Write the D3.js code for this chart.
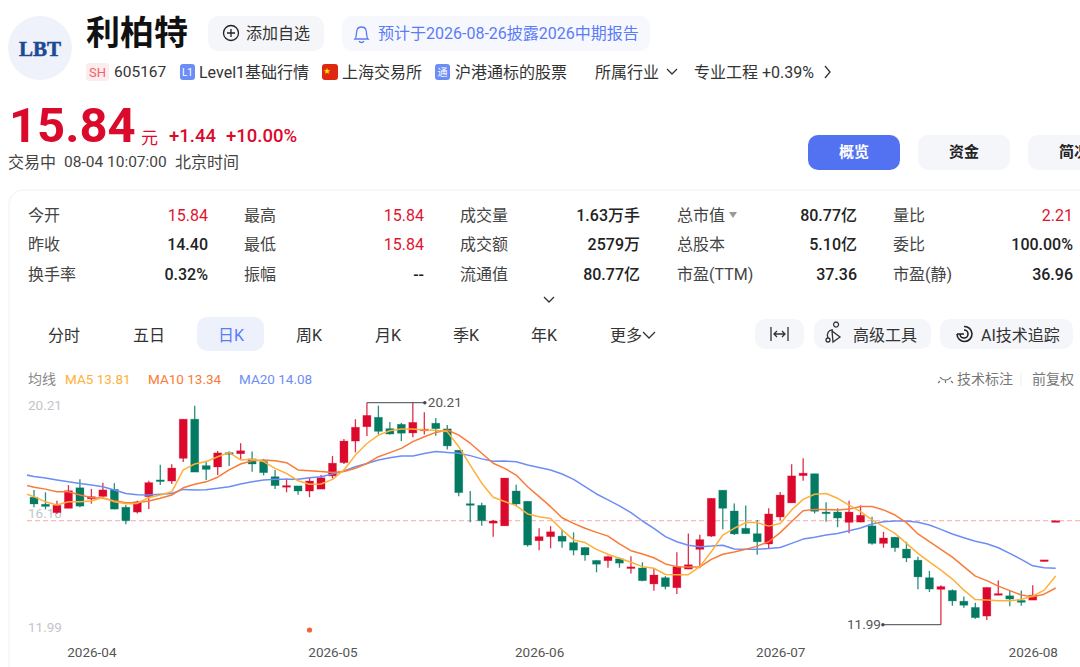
<!DOCTYPE html>
<html>
<head>
<meta charset="utf-8">
<script src="https://cdn.jsdelivr.net/npm/d3@7"></script>
<style>
body { margin: 0; background: #fff; overflow: hidden; }
text { font-family: Roboto, "Noto Sans CJK SC", sans-serif; }
</style>
</head>
<body>
<div id="main"></div>
<script>
// daily candles
const opens = [16.71,16.45,16.14,16.30,17.06,16.65,16.74,17.00,16.34,16.16,
  16.73,17.35,17.31,18.15,19.60,17.88,17.83,18.36,18.32,18.13,
  18.03,17.47,17.09,17.13,16.94,17.01,17.50,17.99,18.79,19.32,
  19.67,19.25,19.41,19.09,19.17,19.45,19.24,18.45,16.47,16.41,
  15.75,15.65,16.94,16.56,15.10,15.25,15.27,15.03,14.85,14.37,
  14.36,14.43,14.08,14.09,13.50,13.73,13.36,14.05,14.78,15.27,
  16.97,16.20,15.56,15.36,14.98,15.98,16.50,17.51,17.58,16.16,
  16.16,15.78,15.79,15.65,15.00,15.23,14.79,14.38,13.73,13.30,
  13.26,12.86,12.63,12.31,13.08,13.06,12.89,12.90,14.33,15.84];
const closes = [16.46,16.37,16.41,16.95,16.38,16.73,16.98,16.27,15.84,16.54,
  17.25,17.30,17.79,19.60,17.64,17.74,18.35,18.30,18.43,17.94,
  17.62,17.14,17.14,16.94,17.31,17.43,17.97,18.79,19.30,19.74,
  19.15,19.05,19.08,19.48,19.23,19.25,18.61,16.88,16.41,15.84,
  15.83,17.42,16.46,14.94,15.25,15.43,15.08,14.75,14.57,14.23,
  14.51,14.27,14.13,13.62,13.83,13.40,14.14,14.21,15.14,16.67,
  16.30,15.35,15.36,15.06,16.09,16.79,17.50,17.60,16.19,16.13,
  15.94,16.16,16.04,15.00,15.20,14.84,14.46,13.76,13.31,13.40,
  12.87,12.71,12.25,13.37,13.14,12.94,12.82,13.08,14.39,15.84];
const highs = [16.98,16.89,16.58,17.16,17.38,17.02,17.25,17.23,16.42,16.58,
  17.32,17.91,17.93,19.60,20.10,18.03,18.42,18.41,18.71,18.40,
  18.13,17.72,17.41,17.13,17.45,17.53,18.24,18.87,19.60,20.21,
  20.10,19.50,19.46,20.21,19.86,19.64,19.38,18.45,16.94,16.51,
  15.87,17.42,17.17,16.56,15.56,15.64,15.53,15.41,14.85,14.37,
  14.54,14.48,14.52,14.30,14.08,13.79,14.67,15.37,15.32,16.67,
  16.97,16.48,16.40,15.87,16.30,16.90,17.93,18.15,17.58,16.52,
  16.30,16.58,16.41,15.99,15.43,15.23,15.06,14.51,13.98,13.45,
  13.30,13.03,12.80,13.37,13.63,13.25,13.26,13.45,14.39,15.84];
const lows = [16.34,16.26,16.09,16.30,16.34,16.47,16.67,16.26,15.71,16.11,
  16.27,17.16,17.20,18.01,17.64,17.35,17.53,17.87,18.09,17.65,
  17.52,17.01,16.89,16.80,16.71,17.01,17.41,17.94,18.37,18.98,
  19.03,19.03,18.79,18.93,19.03,18.99,18.48,16.75,15.78,15.65,
  15.25,15.65,16.38,14.88,14.75,14.82,14.84,14.56,14.36,13.93,
  14.10,14.10,13.89,13.60,13.25,13.30,13.13,14.04,14.08,15.24,
  15.52,15.31,15.36,14.58,14.82,15.86,16.50,17.32,16.11,15.80,
  15.60,15.38,15.78,14.95,14.84,14.69,14.31,13.30,13.20,11.99,
  12.69,12.62,12.21,12.16,13.08,12.67,12.69,12.90,14.33,15.84];

// moving averages, first point sits one day left of the first candle (clipped)
const ma5 = [16.88,16.73,16.54,16.42,16.54,16.54,16.57,16.70,16.54,16.47,16.48,
  16.70,16.79,16.91,17.72,17.94,18.03,18.21,18.36,18.09,18.12,
  18.03,17.78,17.59,17.32,17.19,17.20,17.37,17.72,18.27,18.70,
  19.01,19.17,19.24,19.24,19.20,19.19,19.14,18.58,17.90,17.23,
  16.71,16.55,16.40,16.09,15.99,15.92,15.50,15.13,15.03,14.78,
  14.60,14.45,14.30,14.14,14.08,13.85,13.84,13.84,14.14,14.69,
  15.31,15.56,15.77,15.77,15.64,15.74,16.24,16.63,16.82,16.85,
  16.67,16.42,16.18,15.87,15.62,15.37,15.00,14.63,14.32,14.01,
  13.68,13.27,12.92,12.90,12.88,12.88,12.92,13.05,13.27,13.79];
const ma10 = [17.19,17.08,17.01,16.91,16.91,16.79,16.70,16.67,16.58,16.51,16.51,
  16.57,16.67,16.79,17.06,17.19,17.28,17.45,17.72,17.94,18.06,
  18.09,18.06,17.99,17.72,17.69,17.66,17.63,17.66,17.78,17.96,
  18.21,18.36,18.52,18.77,18.95,19.11,19.20,19.01,18.71,18.34,
  17.97,17.78,17.53,17.10,16.73,16.36,15.95,15.74,15.56,15.41,
  15.27,14.98,14.73,14.61,14.47,14.24,14.14,14.13,14.13,14.41,
  14.60,14.68,14.78,14.90,15.06,15.40,15.81,16.21,16.26,16.26,
  16.24,16.27,16.37,16.37,16.24,16.05,15.77,15.35,15.07,14.78,
  14.49,14.14,13.79,13.62,13.42,13.25,13.09,13.02,13.12,13.35];
const ma20 = [17.56,17.48,17.42,17.35,17.28,17.22,17.16,17.10,16.98,16.85,16.80,
  16.79,16.82,16.85,17.00,16.98,16.99,17.04,17.10,17.20,17.28,
  17.35,17.38,17.38,17.38,17.43,17.47,17.57,17.68,17.84,17.96,
  18.09,18.17,18.24,18.24,18.33,18.40,18.37,18.34,18.25,18.13,
  18.04,18.05,18.02,17.90,17.81,17.72,17.57,17.37,17.10,16.83,
  16.61,16.39,16.14,15.83,15.56,15.25,15.06,14.93,14.88,14.90,
  14.93,14.79,14.78,14.78,14.81,14.85,15.00,15.16,15.23,15.31,
  15.37,15.47,15.57,15.72,15.80,15.83,15.83,15.78,15.68,15.52,
  15.35,15.21,15.08,14.99,14.84,14.63,14.41,14.17,14.10,14.08];

const yTicks = [20.21, 16.10, 11.99];
const monthIdx = [5, 26, 44, 65, 87];
const monthLabels = ['2026-04','2026-05','2026-06','2026-07','2026-08'];
const lastPrice = 15.84, maxPrice = 20.21, minPrice = 11.99;
const maxIdx = 29, maxIdx2 = 33, minIdx = 79, eventIdx = 24;

const statRows = [
  [['今开','15.84','r'],['最高','15.84','r'],['成交量','1.63万手',''],['总市值','80.77亿',''],['量比','2.21','r']],
  [['昨收','14.40',''],['最低','15.84','r'],['成交额','2579万',''],['总股本','5.10亿',''],['委比','100.00%','']],
  [['换手率','0.32%',''],['振幅','--',''],['流通值','80.77亿',''],['市盈(TTM)','37.36',''],['市盈(静)','36.96','']]
];
const statLabelX = [28, 244, 460, 677, 893];
const statValueX = [208, 424, 640, 857, 1073];
const tabs = [['分时',64],['五日',149],['日K',231],['周K',309],['月K',388],['季K',466],['年K',544]];

const red = '#db0a2c', green = '#047a63', blue = '#5b7cf6', btn = '#f5f6fa';

const svg = d3.select('#main').append('svg').attr('width', 1080).attr('height', 667).style('display','block');

const label = (x, y, str, size, color, anchor, weight) => svg.append('text')
  .attr('x', x).attr('y', y).attr('font-size', size).attr('fill', color)
  .attr('text-anchor', anchor || 'start').attr('font-weight', weight || 400)
  .attr('dominant-baseline', 'central').text(str);
const box = (x, y, w, h, r, fill) => svg.append('rect')
  .attr('x', x).attr('y', y).attr('width', w).attr('height', h).attr('rx', r).attr('fill', fill);
const icon = (d, color, sw) => svg.append('path').attr('d', d).attr('fill', 'none')
  .attr('stroke', color || '#333').attr('stroke-width', sw || 1.3);

// header
svg.append('circle').attr('cx', 40).attr('cy', 48).attr('r', 32).attr('fill', '#eff2fa');
label(40, 49, 'LBT', 21, '#1c4a94', 'middle', 700).style('font-family', '"Liberation Serif", serif')
  .attr('stroke', '#1c4a94').attr('stroke-width', 0.5);
label(86, 33, '利柏特', 34, '#111', 'start', 700);
box(208, 16, 116, 35, 10, btn);
svg.append('circle').attr('cx', 231).attr('cy', 33).attr('r', 7.5).attr('fill', 'none').attr('stroke', '#222').attr('stroke-width', 1.3);
icon('M227,33H235M231,29V37', '#222');
label(246, 33, '添加自选', 16, '#333');
box(342, 16, 308, 35, 10, '#f7f8fe');
icon('M355,39C357,37 356,33 357,30C358,26 365,26 366,30C367,33 366,37 368,39ZM359,41C360,43 363,43 364,41', blue);
label(378, 33, '预计于2026-08-26披露2026中期报告', 16, blue);

box(86, 63, 23, 18, 3, '#fdeced');
label(97.5, 72, 'SH', 13, '#f0636c', 'middle');
label(114, 72, '605167', 15.5, '#333');
box(180, 64, 15, 16, 3, '#6c8df5');
label(187.5, 72, 'L1', 10, '#fff', 'middle');
label(199, 72, 'Level1基础行情', 16, '#333');
box(322, 64, 16, 16, 3, '#de2910');
label(327, 71, '★', 7, '#ffde00', 'middle');
label(342, 72, '上海交易所', 16, '#333');
box(435, 64, 15, 16, 3, '#6c8df5');
label(442.5, 72, '通', 10, '#fff', 'middle');
label(455, 72, '沪港通标的股票', 16, '#333');
label(595, 72, '所属行业', 16, '#333');
icon('M667,69L672,74L677,69', '#333');
label(694, 72, '专业工程 +0.39%', 16, '#333');
icon('M825,66L830,72L825,78', '#333');

// price
label(9, 125, '15.84', 49, red, 'start', 700);
label(141, 138, '元', 17, red);
label(169, 136, '+1.44', 18.5, red, 'start', 500);
label(226, 136, '+10.00%', 18.5, red, 'start', 500);
label(8, 162, '交易中', 16, '#444');
label(64, 162, '08-04 10:07:00', 15.5, '#444');
label(175, 162, '北京时间', 16, '#444');

box(808, 135, 92, 35, 10, '#5272f2');
label(854, 152, '概览', 15, '#fff', 'middle', 700);
box(918, 135, 92, 35, 10, btn);
label(964, 152, '资金', 15, '#222', 'middle', 700);
box(1028, 135, 92, 35, 10, btn);
label(1074, 152, '简况', 15, '#222', 'middle', 700);

// stats card
svg.append('rect').attr('x', 9).attr('y', 190).attr('width', 1200).attr('height', 600).attr('rx', 14)
  .attr('fill', 'none').attr('stroke', '#f1f1f4');
statRows.forEach((row, r) => {
  const y = 215 + r * 29.7;
  row.forEach((c, i) => {
    label(statLabelX[i], y, c[0], 16, '#444');
    label(statValueX[i], y, c[1], 16, c[2] ? '#e0142f' : '#222', 'end', c[2] ? 400 : 500);
  });
});
svg.append('path').attr('d', 'M729,212H737L733,218Z').attr('fill', '#999');
icon('M544,297L549,302L554,297', '#333');

// tabs
box(197, 317, 67, 34, 10, '#edf1fc');
tabs.forEach(t => label(t[1], 335, t[0], 16, t[0] === '日K' ? blue : '#333', 'middle'));
label(610, 335, '更多', 16, '#333');
icon('M643,332L649,338L655,332', '#333');
box(755, 319, 49, 30, 10, btn);
icon('M771,327V341M788,327V341M774,334H785M777,331L774,334L777,337M782,331L785,334L782,337', '#333');
box(814, 319, 117, 30, 10, btn);
icon('M836,327A2.500,2.500 0 1,1 836.100,327M833,330C829,329 826,334 828,338M832,331L840,337L833,342Z', '#333');
svg.append('circle').attr('cx', 828).attr('cy', 340).attr('r', 2).attr('fill', 'none').attr('stroke', '#333').attr('stroke-width', 1.3);
label(853, 335, '高级工具', 16, '#333');
box(940, 319, 133, 30, 10, btn);
icon('M957,334A7.500,7.500 0 1,0 964,326.500M960,334A4,4 0 1,0 964,330M964,334H957', '#222', 1.6);
label(981, 335, 'AI技术追踪', 16, '#333');

// legend
label(28, 379, '均线', 14, '#888');
label(65, 379, 'MA5 13.81', 13.5, '#ffb03a');
label(148, 379, 'MA10 13.34', 13.5, '#f97b37');
label(239, 379, 'MA20 14.08', 13.5, '#6c8df5');
icon('M940,377C943,381 948,381 951,377M945.500,380V383M940,381L938,383M951,381L953,383', '#777', 1.2);
label(957, 379, '技术标注', 14, '#777');
svg.append('line').attr('x1', 1021).attr('x2', 1021).attr('y1', 373).attr('y2', 386).attr('stroke', '#eee');
label(1032, 379, '前复权', 14, '#777');

// chart
const x = d3.scaleLinear().domain([0, 89]).range([34, 1055.7]);
const y = d3.scaleLinear().domain([minPrice, maxPrice]).range([624.7, 402.7]);
const candleW = 8;

svg.append('clipPath').attr('id', 'plot').append('rect')
  .attr('x', 27).attr('y', 390).attr('width', 1053).attr('height', 250);

const yAxis = d3.axisRight(y).tickValues(yTicks).tickSize(0).tickPadding(0).tickFormat(d3.format('.2f'));
svg.append('g').attr('transform', 'translate(28,2.5)').call(yAxis)
  .call(g => g.select('.domain').remove())
  .selectAll('text').attr('font-size', 13.5).attr('fill', '#c4c4c8').style('font-family', 'Roboto')
  .attr('y', d => d === 16.10 ? -3.5 : 0);

const xAxis = d3.axisBottom(x).tickValues(monthIdx).tickSize(0).tickPadding(0)
  .tickFormat((d, i) => monthLabels[i]);
svg.append('g').attr('transform', 'translate(0,647)').call(xAxis)
  .call(g => g.select('.domain').remove())
  .selectAll('text').attr('font-size', 13.5).attr('fill', '#555').style('font-family', 'Roboto');

const plot = svg.append('g').attr('clip-path', 'url(#plot)');

plot.append('line').attr('x1', 27).attr('x2', 1080).attr('y1', y(lastPrice)).attr('y2', y(lastPrice))
  .attr('stroke', '#f9a8ac').attr('stroke-width', 1).attr('stroke-dasharray', '5,3');

const candles = opens.map((o, i) => ({ i, o, c: closes[i], h: highs[i], l: lows[i] }));
const col = d => d.c >= d.o ? red : green;

plot.selectAll('.wick').data(candles).enter().append('line').attr('class', 'wick')
  .attr('x1', d => x(d.i)).attr('x2', d => x(d.i))
  .attr('y1', d => y(d.h)).attr('y2', d => y(d.l))
  .attr('stroke', col).attr('stroke-width', 1.3).attr('stroke-opacity', 0.85);

plot.selectAll('.body').data(candles).enter().append('rect').attr('class', 'body')
  .attr('x', d => x(d.i) - candleW / 2).attr('width', candleW)
  .attr('y', d => y(Math.max(d.o, d.c)))
  .attr('height', d => Math.max(1.6, Math.abs(y(d.o) - y(d.c))))
  .attr('fill', col).attr('stroke', col).attr('stroke-width', 0.8).attr('stroke-opacity', 0.35);

const lineOf = d3.line().x((d, i) => x(i - 1)).y(d => y(d));
[[ma20, '#6c8df5'], [ma10, '#f97b37'], [ma5, '#ffb03a']].forEach(m => {
  plot.append('path').attr('d', lineOf(m[0])).attr('fill', 'none')
    .attr('stroke', m[1]).attr('stroke-width', 1.5).attr('stroke-linejoin', 'round');
});

// max / min marks
const markColor = '#44464f';
svg.append('line').attr('x1', x(maxIdx)).attr('x2', x(maxIdx2) + 12).attr('y1', y(maxPrice)).attr('y2', y(maxPrice))
  .attr('stroke', markColor);
svg.append('circle').attr('cx', x(maxIdx2) + 12).attr('cy', y(maxPrice)).attr('r', 1.7).attr('fill', markColor);
label(x(maxIdx2) + 15, y(maxPrice) - 1, '20.21', 13.5, '#555');
svg.append('line').attr('x1', x(minIdx)).attr('x2', x(minIdx) - 58).attr('y1', y(minPrice)).attr('y2', y(minPrice))
  .attr('stroke', markColor);
svg.append('circle').attr('cx', x(minIdx) - 58).attr('cy', y(minPrice)).attr('r', 1.7).attr('fill', markColor);
label(x(minIdx) - 60, y(minPrice) - 1, '11.99', 13.5, '#555', 'end');

svg.append('circle').attr('cx', x(eventIdx)).attr('cy', 630).attr('r', 2.6).attr('fill', '#f4623a');
</script>
</body>
</html>
